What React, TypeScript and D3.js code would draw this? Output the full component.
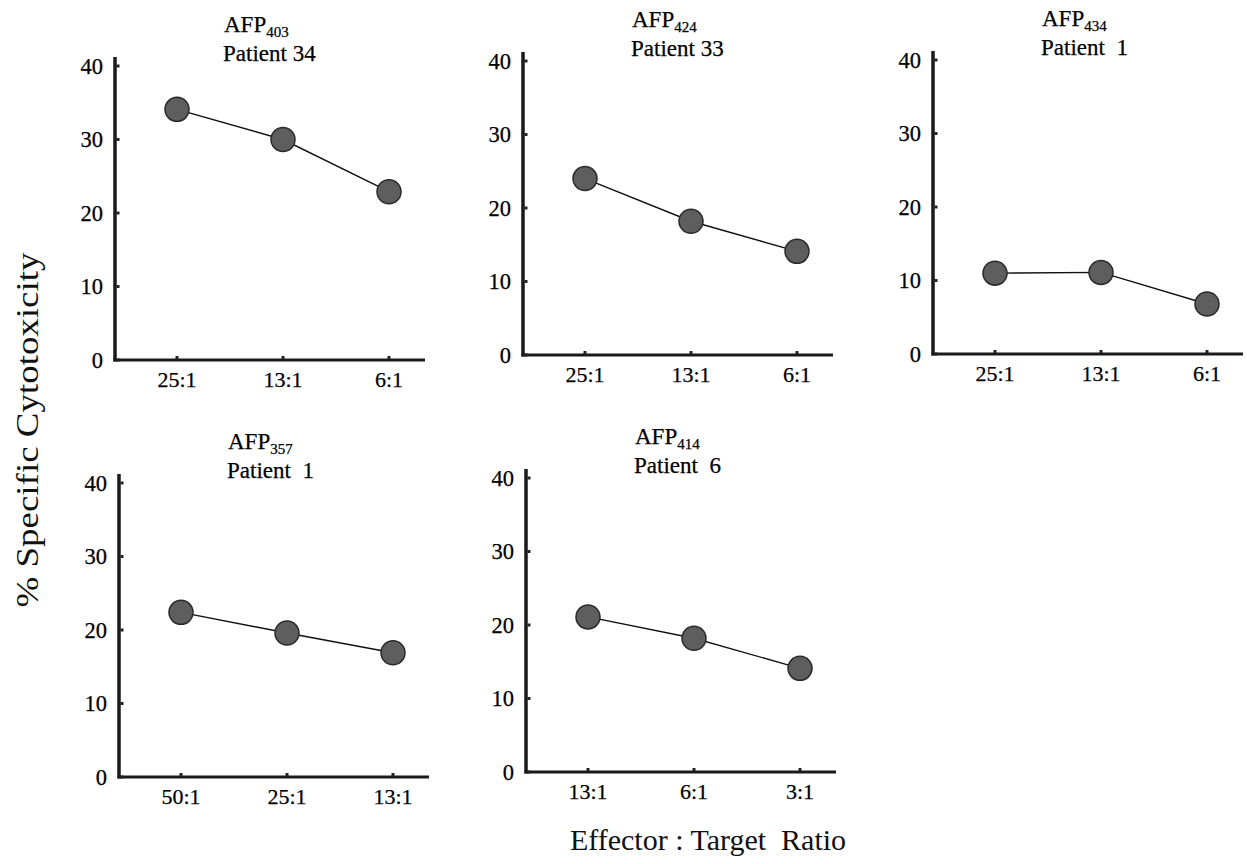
import React, { useEffect, useRef } from 'react';
import * as d3 from 'd3';

// peptide / patient labels for each panel
const peptides = ['403', '424', '434', '357', '414'];
const patients = ['Patient 34', 'Patient 33', 'Patient  1', 'Patient  1', 'Patient  6'];

// effector:target ratios on each x axis
const ratiosA = ['25:1', '13:1', '6:1'];
const ratiosB = ['25:1', '13:1', '6:1'];
const ratiosC = ['25:1', '13:1', '6:1'];
const ratiosD = ['50:1', '25:1', '13:1'];
const ratiosE = ['13:1', '6:1', '3:1'];

// % specific cytotoxicity
const cytoA = [34.1, 30.0, 22.9];
const cytoB = [24.0, 18.2, 14.1];
const cytoC = [11.0, 11.1, 6.8];
const cytoD = [22.4, 19.6, 16.9];
const cytoE = [21.1, 18.2, 14.1];

const yTicks = [0, 10, 20, 30, 40];

// where each panel's origin sits on the page
const origins = [
  { x: 115, y: 360 },
  { x: 523, y: 355 },
  { x: 933, y: 354 },
  { x: 119, y: 777 },
  { x: 526, y: 772 },
];

const FONT = '"Liberation Serif", "Times New Roman", serif';

const App = () => {
  const svgRef = useRef<SVGSVGElement>(null);

  useEffect(() => {
    const svg = d3.select(svgRef.current);
    svg.selectAll('*').remove();

    const ratios = [ratiosA, ratiosB, ratiosC, ratiosD, ratiosE];
    const values = [cytoA, cytoB, cytoC, cytoD, cytoE];

    const plotH = 294; // 0 -> 40
    const axisW = 310;

    origins.forEach((o, i) => {
      const g = svg.append('g')
        .attr('font-family', FONT)
        .attr('fill', '#000')
        .attr('stroke', '#000')
        .attr('stroke-width', 0.25);

      const y = d3.scaleLinear().domain([0, 40]).range([o.y, o.y - plotH]);
      const x = d3.scalePoint<string>().domain(ratios[i]).range([o.x + 62, o.x + 274]);

      // y axis
      g.append('line')
        .attr('x1', o.x).attr('x2', o.x)
        .attr('y1', o.y + 1.5).attr('y2', y(40) - 9)
        .attr('stroke', '#1a1a1a').attr('stroke-width', 3.5);
      // x axis
      g.append('line')
        .attr('x1', o.x - 1.5).attr('x2', o.x + axisW)
        .attr('y1', o.y).attr('y2', o.y)
        .attr('stroke', '#1a1a1a').attr('stroke-width', 3);

      // y ticks + labels
      g.selectAll('.ytick')
        .data(yTicks)
        .enter()
        .append('rect')
        .attr('x', o.x + 1.5)
        .attr('y', d => y(d) - 1.5)
        .attr('width', 3)
        .attr('height', 3)
        .attr('stroke', 'none')
        .attr('fill', '#222');
      g.selectAll('.ylab')
        .data(yTicks)
        .enter()
        .append('text')
        .attr('x', o.x - 12)
        .attr('y', d => y(d) + 7.5)
        .attr('text-anchor', 'end')
        .attr('font-size', 22.5)
        .text(d => d);

      // x ticks + labels
      g.selectAll('.xtick')
        .data(ratios[i])
        .enter()
        .append('rect')
        .attr('x', d => (x(d) as number) - 1.5)
        .attr('y', o.y - 4)
        .attr('width', 3)
        .attr('height', 3)
        .attr('stroke', 'none')
        .attr('fill', '#222');
      g.selectAll('.xlab')
        .data(ratios[i])
        .enter()
        .append('text')
        .attr('x', d => x(d) as number)
        .attr('y', o.y + 27)
        .attr('text-anchor', 'middle')
        .attr('font-size', 22)
        .text(d => d);

      // title
      const t = g.append('text')
        .attr('x', o.x + 109)
        .attr('y', y(40) - 34)
        .attr('font-size', 23);
      t.append('tspan').text('AFP');
      t.append('tspan').attr('font-size', 15).attr('dy', 5).text(peptides[i]);
      g.append('text')
        .attr('x', o.x + 108)
        .attr('y', y(40) - 5)
        .attr('font-size', 23)
        .style('white-space', 'pre')
        .text(patients[i]);

      // line + points
      const pts = ratios[i].map((r, j) => [x(r) as number, y(values[i][j])] as [number, number]);
      g.append('path')
        .attr('d', d3.line()(pts))
        .attr('fill', 'none')
        .attr('stroke', '#111')
        .attr('stroke-width', 1.4);
      g.selectAll('circle')
        .data(pts)
        .enter()
        .append('circle')
        .attr('cx', d => d[0])
        .attr('cy', d => d[1])
        .attr('r', 12)
        .attr('fill', '#5e5e5e')
        .attr('stroke', '#2a2a2a')
        .attr('stroke-width', 1.5);
    });

    // shared axis titles
    svg.append('text')
      .attr('transform', 'translate(38, 430) rotate(-90)')
      .attr('text-anchor', 'middle')
      .attr('font-family', FONT)
      .attr('font-size', 32)
      .attr('textLength', 355)
      .attr('lengthAdjust', 'spacingAndGlyphs')
      .attr('fill', '#111')
      .text('% Specific Cytotoxicity');

    svg.append('text')
      .attr('x', 708)
      .attr('y', 850)
      .attr('text-anchor', 'middle')
      .attr('font-family', FONT)
      .attr('font-size', 30)
      .attr('fill', '#111')
      .style('white-space', 'pre')
      .text('Effector : Target  Ratio');
  }, []);

  return (
    <svg
      ref={svgRef}
      width={1247}
      height={864}
      style={{ position: 'absolute', left: 0, top: 0, background: '#fff' }}
    ></svg>
  );
};

export default App;
